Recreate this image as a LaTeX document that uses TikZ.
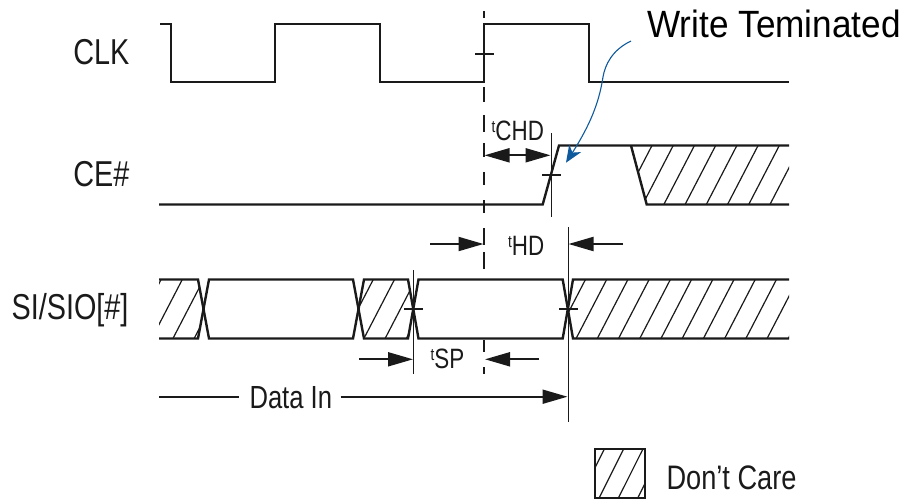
\documentclass[tikz,border=0pt]{standalone}
\usepackage{fontspec}
\setmainfont{Liberation Sans}
\newfontfamily\narrowf[FakeStretch=0.8]{Liberation Sans}
\newfontfamily\widef[FakeStretch=0.925]{Liberation Sans}
\usetikzlibrary{arrows.meta}
\definecolor{inkc}{HTML}{1A1A1A}
\definecolor{bluec}{HTML}{0F5A9C}
\newcommand{\tsub}{\raisebox{8pt}{\fontsize{17}{17}\selectfont t}}
\tikzset{
  wave/.style={draw=inkc,line width=2.4pt,line join=miter},
  hatchline/.style={draw=inkc,line width=1.2pt},
  thinv/.style={draw=inkc,line width=1pt},
  tick/.style={draw=inkc,line width=1.9pt},
  dashv/.style={draw=inkc,line width=1.1pt},
  dim/.style={draw=inkc,line width=2pt,-{Triangle[length=25pt,width=14pt]}},
  dimb/.style={draw=inkc,line width=2pt,{Triangle[length=25pt,width=14pt]}-{Triangle[length=25pt,width=14pt]}},
  lab/.style={font=\narrowf\fontsize{36}{36}\selectfont,text=inkc,inner sep=0pt,anchor=base},
  tim/.style={font=\narrowf\fontsize{28}{28}\selectfont,text=inkc,inner sep=0pt,anchor=base west},
  mid/.style={font=\narrowf\fontsize{32}{32}\selectfont,text=inkc,inner sep=0pt,anchor=base},
  big/.style={font=\widef\fontsize{38}{38}\selectfont,text=black,inner sep=0pt,anchor=base},
  care/.style={font=\narrowf\fontsize{34}{34}\selectfont,text=inkc,inner sep=0pt,anchor=base},
  note/.style={draw=bluec,line width=1.1pt,-{Stealth[length=17pt,width=14pt,inset=5pt]}}
}
\begin{document}
\begin{tikzpicture}[x=1pt,y=-1pt]
\useasboundingbox (0,0) rectangle (903,499);
% dashed reference
\foreach \a/\b in {11/18,87/102,115/132,143/157,172/185,200/213,228/245,252/269,340/352,367/374}
  \draw[dashv] (484,\a) -- (484,\b);
% CLK
\draw[wave] (160,24) -- (171,24) -- (171,82) -- (275,82) -- (275,24) -- (380,24) -- (380,82) -- (484,82) -- (484,24) -- (589,24) -- (589,82) -- (789,82);
\draw[tick] (475,54) -- (494,54);
% CE#
\begin{scope}
\clip (631,145.5) -- (789,145.5) -- (789,204.5) -- (646.7,204.5) -- cycle;
\foreach \k in {-1,...,8}{\draw[hatchline] ({652+21.22*\k},145.5) -- ({652+21.22*\k-30.6},204.5);}
\end{scope}
\draw[wave] (159,204.5) -- (542.7,204.5) -- (559,145.5) -- (789,145.5);
\draw[wave] (631,145.5) -- (646.7,204.5) -- (789,204.5);
\draw[tick] (542,174.7) -- (560.7,174.7);
\draw[thinv] (551,133) -- (551,217);
% SI
\begin{scope}
\clip (159,279.5) -- (198,279.5) -- (203.5,309) -- (198,338.5) -- (159,338.5) -- cycle;
\foreach \k in {-21,...,-17}{\draw[hatchline] ({606.7+21.22*\k},279.5) -- ({606.7+21.22*\k-30.6},338.5);}
\end{scope}
\begin{scope}
\clip (358.5,309) -- (364,279.5) -- (408,279.5) -- (413.5,309) -- (408,338.5) -- (364,338.5) -- cycle;
\foreach \k in {-12,...,-8}{\draw[hatchline] ({606.7+21.22*\k},279.5) -- ({606.7+21.22*\k-30.6},338.5);}
\end{scope}
\begin{scope}
\clip (568,309) -- (573,279.5) -- (789,279.5) -- (789,338.5) -- (573,338.5) -- cycle;
\foreach \k in {-2,...,10}{\draw[hatchline] ({606.7+21.22*\k},279.5) -- ({606.7+21.22*\k-30.6},338.5);}
\end{scope}
\draw[wave] (159,279.5) -- (198,279.5) -- (209,338.5) -- (353,338.5) -- (364,279.5) -- (408,279.5) -- (418.5,338.5) -- (562.7,338.5) -- (573,279.5) -- (789,279.5);
\draw[wave] (159,338.5) -- (198,338.5) -- (209,279.5) -- (353,279.5) -- (364,338.5) -- (408,338.5) -- (418.5,279.5) -- (562.7,279.5) -- (573,338.5) -- (789,338.5);
\draw[tick] (404,309) -- (422.7,309);
\draw[tick] (559,309) -- (577.7,309);
\draw[thinv] (413.5,270) -- (413.5,374);
\draw[thinv] (568,227) -- (568,422);
% labels
\node[lab] (clk) at (101.3,64.3) {CLK};
\node[lab] (ce) at (101.3,186.7) {CE\#};
\node[lab] (si) at (70,319) {SI/SIO[\#]};
\node[big] (wt) at (774,37.7) {Write Teminated};
\node[tim] (tchd) at (491.5,140) {\tsub CHD};
\node[tim] (thd) at (508,255) {\tsub HD};
\node[tim] (tsp) at (430.5,368) {\tsub SP};
\node[mid] (datain) at (290.8,408) {Data In};
\node[care] (dc) at (731.5,489) {Don’t Care};
% dimension arrows
\coordinate (a1) at (484.5,155.3);
\coordinate (a2) at (550.5,155.3);
\draw[dimb] (a1) -- (a2);
\coordinate (h1) at (430,244);
\coordinate (h2) at (483.5,244);
\coordinate (h3) at (623,244);
\coordinate (h4) at (568.5,244);
\draw[dim] (h1) -- (h2);
\draw[dim] (h3) -- (h4);
\coordinate (s1) at (359,359.3);
\coordinate (s2) at (413,359.3);
\coordinate (s3) at (539,359.3);
\coordinate (s4) at (485,359.3);
\draw[dim] (s1) -- (s2);
\draw[dim] (s3) -- (s4);
\coordinate (d1) at (159,396.7);
\coordinate (d2) at (567.5,396.7);
\coordinate (d3) at (239,396.7);
\coordinate (d4) at (340.7,396.7);
\draw[draw=inkc,line width=2pt] (d1) -- (d3);
\draw[dim] (d4) -- (d2);
% blue note arrow
\coordinate (n1) at (631,41);
\coordinate (n2) at (566,162.7);
\draw[note] (n1) .. controls (612,50) and (605,65) .. (603,77) .. controls (599,103) and (590,125) .. (n2);
% legend
\begin{scope}
\clip (594.7,448.7) rectangle (645,498);
\foreach \t in {604.5,623.8,643.1,662.4}{\draw[hatchline] (\t,448.7) -- ({\t-24.7},498);}
\end{scope}
\draw[draw=inkc,line width=2pt] (595.2,449) rectangle (644.8,498);
\end{tikzpicture}
\end{document}
